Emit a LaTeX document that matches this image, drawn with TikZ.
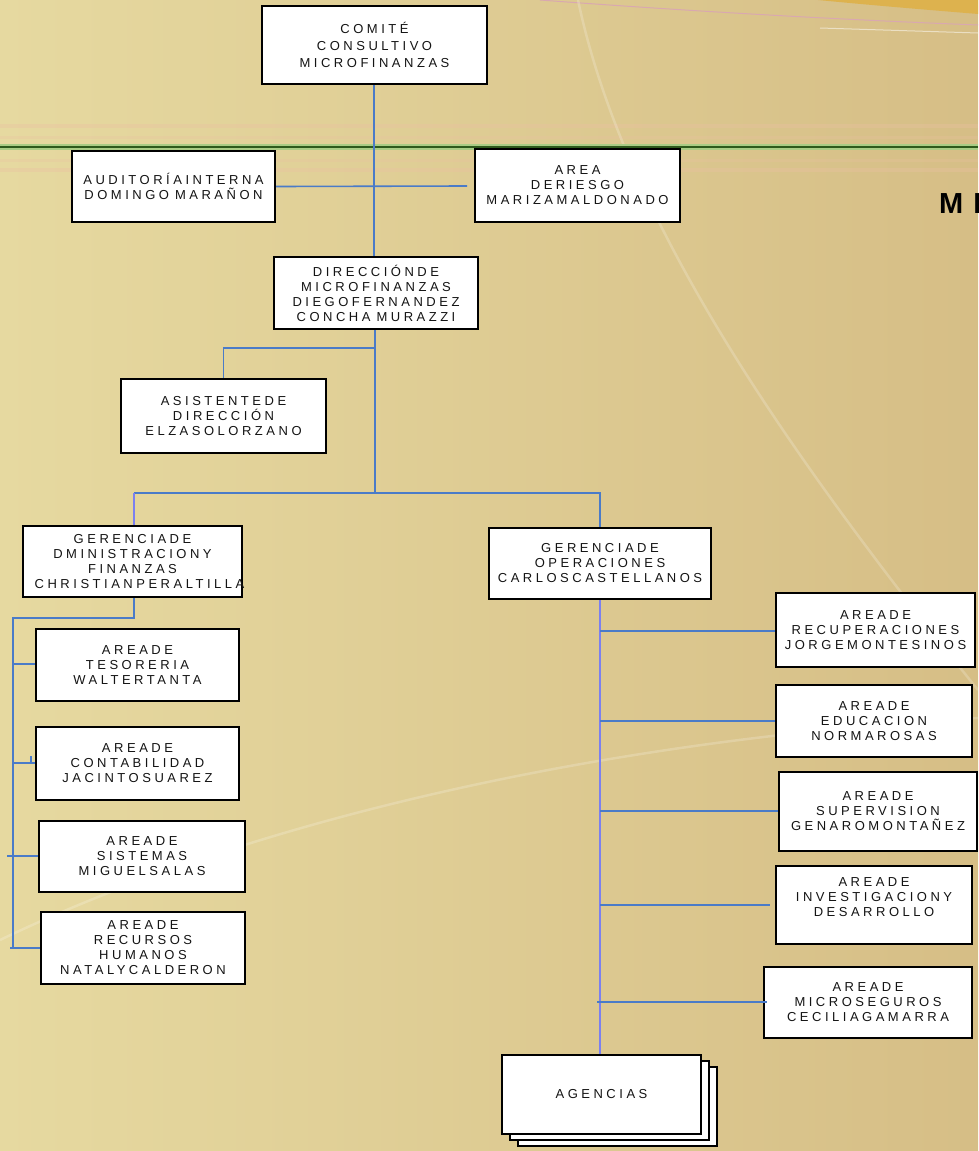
\documentclass[tikz,border=0pt]{standalone}
\usepackage{fontspec}
\setmainfont{Liberation Sans}
\newfontfamily\boxfam[LetterSpace=27]{Liberation Sans}
\newfontfamily\titlefam[LetterSpace=35]{Liberation Sans}
\newcommand\boxfont{\boxfam\fontsize{13}{15}\selectfont\color{txt}}
\newcommand\titlefont{\titlefam\bfseries\fontsize{29}{32}\selectfont}
\newcommand\wsp{\hspace*{6pt}}
\definecolor{bgL}{HTML}{E6D9A0}
\definecolor{bgR}{HTML}{D6BE86}
\definecolor{goldc}{HTML}{DDB24E}
\definecolor{pinkl}{HTML}{D9A8B0}
\definecolor{band}{HTML}{EBC0A2}
\definecolor{dgreen}{HTML}{2E5A1C}
\definecolor{lgreen}{HTML}{A9CC84}
\definecolor{lblue}{HTML}{4A7BC8}
\definecolor{vblue}{HTML}{7B80F0}
\definecolor{txt}{HTML}{141414}
\tikzset{
  box/.style 2 args={draw=black, line width=2.2pt, fill=white, inner xsep=0pt, inner ysep=0pt,
    text width=#1, minimum height=#2, align=center, font=\boxfont},
  conn/.style={draw=lblue, line width=1.6pt},
  connv/.style={draw=vblue, line width=1.6pt},
  deco/.style={draw=white, opacity=0.2, line width=2.5pt},
}
\begin{document}
\begin{tikzpicture}[x=1pt,y=-1pt]
\useasboundingbox (0,0) rectangle (978,1151);
% background
\shade[left color=bgL, right color=bgR] (0,0) rectangle (978,1151);
\fill[goldc] (818,0) .. controls (880,6) and (930,10) .. (978,14) -- (978,0) -- cycle;
\draw[pinkl, line width=1pt] (540,0) .. controls (700,12) and (850,20) .. (978,25);
\draw[white, opacity=0.5, line width=1pt] (820,28) -- (978,33);
\draw[band, opacity=0.35, line width=4pt] (0,126) -- (978,126);
\draw[band, opacity=0.25, line width=3pt] (0,137) -- (978,137);
\draw[band, opacity=0.25, line width=3pt] (0,160) -- (978,160);
\draw[band, opacity=0.35, line width=4pt] (0,170) -- (978,170);
\draw[deco] (578,0) .. controls (620,200) and (760,420) .. (978,690);
\draw[deco] (0,940) .. controls (250,820) and (600,740) .. (978,718);
\draw[lgreen, line width=6pt] (0,147) -- (978,147);
\draw[dgreen, line width=2.5pt] (0,147) -- (978,147);
\node[anchor=base west, inner sep=0pt, font=\titlefont] (mi) at (939,213) {MI};

% boxes
\node[box={225pt}{78pt}] (comite) at (374.5,45) {COMITÉ\\[2pt]CONSULTIVO\\[2pt]MICROFINANZAS};
\node[box={203pt}{71pt}] (audit) at (173.5,186.5) {AUDITORÍAINTERNA\\DOMINGO\wsp MARAÑON};
\node[box={205pt}{73pt}] (riesgo) at (577.5,185.5) {AREA\\DERIESGO\\MARIZAMALDONADO};
\node[box={204pt}{72pt}] (direc) at (376,293) {DIRECCIÓNDE\\MICROFINANZAS\\DIEGOFERNANDEZ\\CONCHA\wsp MURAZZI};
\node[box={205pt}{74pt}] (asist) at (223.5,416) {ASISTENTEDE\\DIRECCIÓN\\ELZASOLORZANO};
\node[box={219pt}{71pt}] (geradm) at (132.5,561.5) {GERENCIADE\\DMINISTRACIONY\\FINANZAS\\\makebox[0pt]{\kern14pt CHRISTIANPERALTILLA}};
\node[box={203pt}{72pt}] (tesor) at (137.5,665) {AREADE\\TESORERIA\\WALTERTANTA};
\node[box={203pt}{73pt}] (contab) at (137.5,763.5) {AREADE\\CONTABILIDAD\\JACINTOSUAREZ};
\node[box={206pt}{71pt}] (sist) at (142,856.5) {AREADE\\SISTEMAS\\MIGUELSALAS};
\node[box={204pt}{72pt}] (rrhh) at (143,948) {AREADE\\RECURSOS\\HUMANOS\\NATALYCALDERON};
\node[box={222pt}{71pt}] (gerop) at (600,563.5) {GERENCIADE\\OPERACIONES\\CARLOSCASTELLANOS};
\node[box={199pt}{74pt}] (recup) at (875.5,630) {AREADE\\RECUPERACIONES\\JORGEMONTESINOS};
\node[box={196pt}{72pt}] (educ) at (874,721) {AREADE\\EDUCACION\\NORMAROSAS};
\node[box={198pt}{79pt}] (superv) at (878,811.5) {AREADE\\SUPERVISION\\GENAROMONTAÑEZ};
\node[box={196pt}{78pt}] (invest) at (874,905) {AREADE\\INVESTIGACIONY\\DESARROLLO\\\mbox{}};
\node[box={208pt}{71pt}] (microseg) at (868,1002.5) {AREADE\\MICROSEGUROS\\CECILIAGAMARRA};
\node[box={199pt}{79pt}] (agen3) at (617.5,1106.5) {};
\node[box={199pt}{79pt}] (agen2) at (609.5,1100.5) {};
\node[box={199pt}{79pt}] (agen) at (601.5,1094.5) {AGENCIAS};

% junction coordinates
\coordinate (rj) at (467,186);
\coordinate (jc) at (375,493);
\coordinate (jl) at (134,493);
\coordinate (jr) at (600,493);
\coordinate (ja) at (375,348);
\coordinate (la) at (134,618);
\coordinate (lb) at (13,618);
\coordinate (lc) at (13,948);

% connectors
\draw[conn] (comite.south -| 374,0) -- (direc.north -| 374,0);
\draw[conn] (audit.east) -- (rj);
\draw[conn] (direc.south -| jc) -- (jc);
\draw[conn] (ja) -| (asist.north);
\draw[conn] (jl) -- (jr) -- (gerop.north -| jr);
\draw[connv] (jl) -- (geradm.north -| jl);
\draw[conn] (geradm.south -| la) -- (la) -- (lb) -- (lc);
\draw[conn] (13,664) -- (tesor.west |- 0,664);
\draw[conn] (13,763) -- (contab.west |- 0,763);
\draw[conn, line width=1.2pt] (31,763) -- (31,756);
\draw[conn] (7,856) -- (sist.west |- 0,856);
\draw[conn] (10,948) -- (rrhh.west |- 0,948);
\draw[connv] (gerop.south -| jr) -- (agen.north -| jr);
\draw[conn] (600,631) -- (recup.west |- 0,631);
\draw[conn] (600,721) -- (educ.west |- 0,721);
\draw[conn] (600,811) -- (superv.west |- 0,811);
\draw[conn] (600,905) -- (770,905);
\draw[conn] (597,1002) -- (767,1002);
\end{tikzpicture}
\end{document}
